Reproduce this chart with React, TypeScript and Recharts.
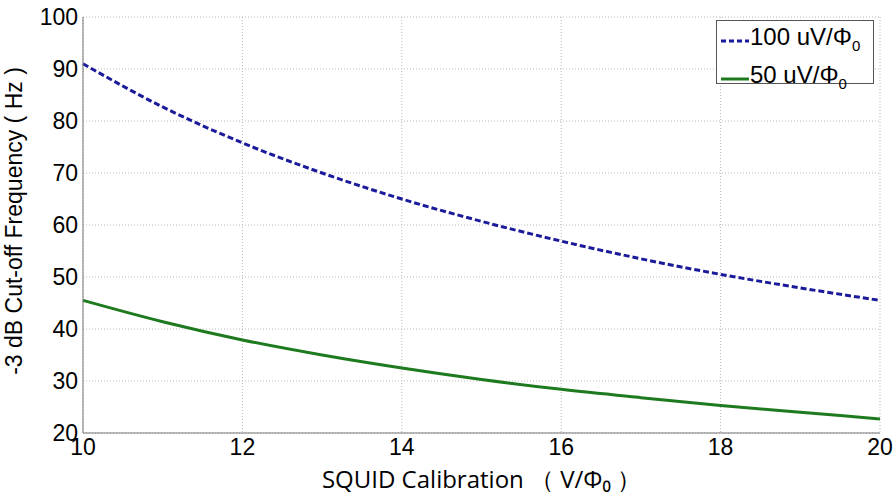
import React from 'react';
import { LineChart, Line, XAxis, YAxis, CartesianGrid, Label } from 'recharts';

const calibration = [10, 11, 12, 13, 14, 15, 16, 17, 18, 19, 20];
const cutoff100 = [91, 82.7, 75.8, 70, 65, 60.7, 56.9, 53.5, 50.5, 47.9, 45.5];
const cutoff50 = [45.5, 41.4, 37.9, 35, 32.5, 30.3, 28.4, 26.8, 25.3, 24, 22.7];
const xTicks = [10, 12, 14, 16, 18, 20];
const yTicks = [20, 30, 40, 50, 60, 70, 80, 90, 100];
const seriesNames = ['100 uV/Φ', '50 uV/Φ'];

const data = calibration.map((c, i) => ({ x: c, a: cutoff100[i], b: cutoff50[i] }));

const FONT = 'Liberation Sans, Arial, sans-serif';

const LegendBox = () => (
  <div style={{ position: 'absolute', left: 716, top: 20, border: '1px solid #555', background: '#fff', width: 158, height: 64, boxSizing: 'border-box', fontFamily: FONT, fontSize: 24, color: '#000', padding: '1px 0 0 3px', lineHeight: '29px' }}>
    <div style={{ display: 'flex', alignItems: 'center' }}>
      <svg width={30} height={10}><line x1={1} y1={5} x2={29} y2={5} stroke="#1a1a9a" strokeWidth={3} strokeDasharray="5 3" /></svg>
      <span>{seriesNames[0]}<sub style={{ fontSize: 15 }}>0</sub></span>
    </div>
    <div style={{ display: 'flex', alignItems: 'center' }}>
      <svg width={30} height={10}><line x1={1} y1={5} x2={29} y2={5} stroke="#1e7a1e" strokeWidth={3} /></svg>
      <span>{seriesNames[1]}<sub style={{ fontSize: 15 }}>0</sub></span>
    </div>
  </div>
);

export default function App() {
  return (
    <div style={{ position: 'absolute', left: 0, top: 0, width: 893, height: 494, background: '#fff' }}>
      <LineChart width={893} height={494} data={data} margin={{ top: 17, right: 13, bottom: 0, left: 0 }}>
        <CartesianGrid stroke="#bbb" strokeDasharray="1 2" />
        <XAxis
          dataKey="x"
          type="number"
          domain={[10, 20]}
          ticks={xTicks}
          height={61}
          tickLine={false}
          tickSize={0}
          tickMargin={4}
          axisLine={{ stroke: '#777' }}
          tick={{ fill: '#000', fontSize: 23, fontFamily: FONT, dy: 2 }}
        >
          <Label
            value="SQUID Calibration （ V/Φ₀ ）"
            position="insideBottom"
            offset={6}
            style={{ fill: '#000', fontSize: 24, fontFamily: 'Open Sans, sans-serif' }}
          />
        </XAxis>
        <XAxis xAxisId="top" orientation="top" dataKey="x" type="number" domain={[10, 20]} height={0} tick={false} tickLine={false} axisLine={{ stroke: '#777' }} />
        <YAxis
          domain={[20, 100]}
          ticks={yTicks}
          width={83}
          tickLine={false}
          tickSize={0}
          tickMargin={5}
          axisLine={{ stroke: '#777' }}
          tick={{ fill: '#000', fontSize: 23, fontFamily: FONT }}
        >
          <Label
            value="-3 dB Cut-off Frequency ( Hz )"
            angle={-90}
            position="insideLeft"
            offset={14}
            dy={-4}
            style={{ textAnchor: 'middle', fill: '#000', fontSize: 23, fontFamily: FONT }}
          />
        </YAxis>
        <YAxis yAxisId="right" orientation="right" domain={[20, 100]} width={0} tick={false} tickLine={false} axisLine={{ stroke: '#777' }} />
        <Line type="monotone" dataKey="a" stroke="#1a1a9a" strokeWidth={3} strokeDasharray="6 3" dot={false} isAnimationActive={false} />
        <Line type="monotone" dataKey="b" stroke="#1e7a1e" strokeWidth={3} dot={false} isAnimationActive={false} />
      </LineChart>
      <LegendBox />
    </div>
  );
}
